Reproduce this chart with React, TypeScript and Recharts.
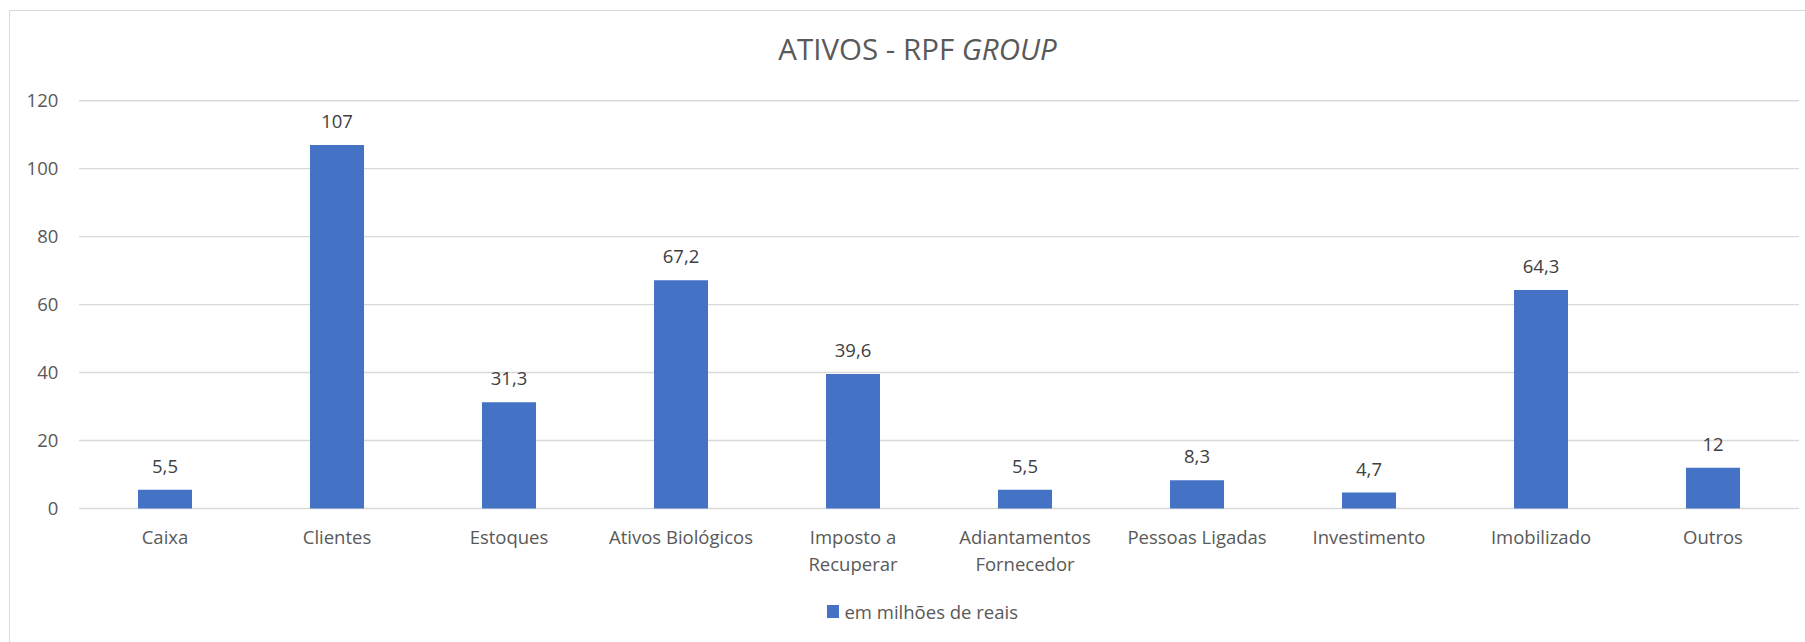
import { Bar, BarChart, CartesianGrid, LabelList, Legend, XAxis, YAxis } from "recharts";

const categories = [
  "Caixa",
  "Clientes",
  "Estoques",
  "Ativos Biológicos",
  "Imposto a\nRecuperar",
  "Adiantamentos\nFornecedor",
  "Pessoas Ligadas",
  "Investimento",
  "Imobilizado",
  "Outros",
];
const values = [5.5, 107, 31.3, 67.2, 39.6, 5.5, 8.3, 4.7, 64.3, 12];
const yTicks = [0, 20, 40, 60, 80, 100, 120];
const seriesName = "em milhões de reais";

const data = categories.map((name, i) => ({ name, value: values[i] }));

const FONT = "'Open Sans', sans-serif";
const AXIS_TEXT = "#595959";
const BAR_COLOR = "#4472C4";

function CategoryTick({ x, y, payload }: any) {
  const lines = String(payload.value).split("\n");
  return (
    <text x={x} y={y} textAnchor="middle" fill={AXIS_TEXT} fontSize={18.5} fontFamily={FONT}>
      {lines.map((line, i) => (
        <tspan key={i} x={x} dy={i === 0 ? 35.5 : 26.7}>
          {line}
        </tspan>
      ))}
    </text>
  );
}

function LegendBox() {
  return (
    <div
      style={{
        height: 30,
        display: "flex",
        alignItems: "center",
        justifyContent: "center",
        paddingLeft: 46,
        fontFamily: FONT,
        fontSize: 18.5,
        color: AXIS_TEXT,
      }}
    >
      <span style={{ width: 12.5, height: 12.5, background: BAR_COLOR, marginRight: 5 }} />
      <span>{seriesName}</span>
    </div>
  );
}

export default function App() {
  return (
    <div
      style={{
        position: "absolute",
        left: 0,
        top: 0,
        width: 1805,
        height: 642,
        overflow: "hidden",
        background: "#fff",
        fontFamily: FONT,
      }}
    >
      {/* chart frame, cut off at right and bottom */}
      <div
        style={{
          position: "absolute",
          left: 9,
          top: 9.5,
          width: 2000,
          height: 1000,
          border: "1.5px solid #D9D9D9",
        }}
      />
      <svg
        width={1805}
        height={642}
        style={{ position: "absolute", left: 0, top: 0, pointerEvents: "none" }}
      >
        <text x={917.5} y={60} textAnchor="middle" fontSize={29.5} fill={AXIS_TEXT} fontFamily={FONT}>
          ATIVOS - RPF <tspan fontStyle="italic">GROUP</tspan>
        </text>
      </svg>
      <div style={{ position: "absolute", left: 0, top: 0 }}>
        <BarChart
          width={1805}
          height={642}
          data={data}
          margin={{ top: 100.7, right: 6, left: 0, bottom: 15.5 }}
        >
          <CartesianGrid vertical={false} stroke="#D9D9D9" strokeWidth={1.4} />
          <XAxis
            dataKey="name"
            height={88}
            axisLine={false}
            tickLine={false}
            tickSize={0}
            tickMargin={0}
            interval={0}
            tick={<CategoryTick />}
          />
          <YAxis
            width={79}
            domain={[0, 120]}
            ticks={yTicks}
            axisLine={false}
            tickLine={false}
            tickSize={0}
            tickMargin={20.7}
            tick={{ fill: AXIS_TEXT, fontSize: 18.5, fontFamily: FONT }}
          />
          <Legend verticalAlign="bottom" content={<LegendBox />} />
          <Bar dataKey="value" name={seriesName} fill={BAR_COLOR} barSize={54} isAnimationActive={false}>
            <LabelList
              dataKey="value"
              position="top"
              offset={17}
              fill="#404040"
              fontSize={18.5}
              fontFamily={FONT}
              formatter={(v: any) => String(v).replace(".", ",")}
            />
          </Bar>
        </BarChart>
      </div>
    </div>
  );
}
